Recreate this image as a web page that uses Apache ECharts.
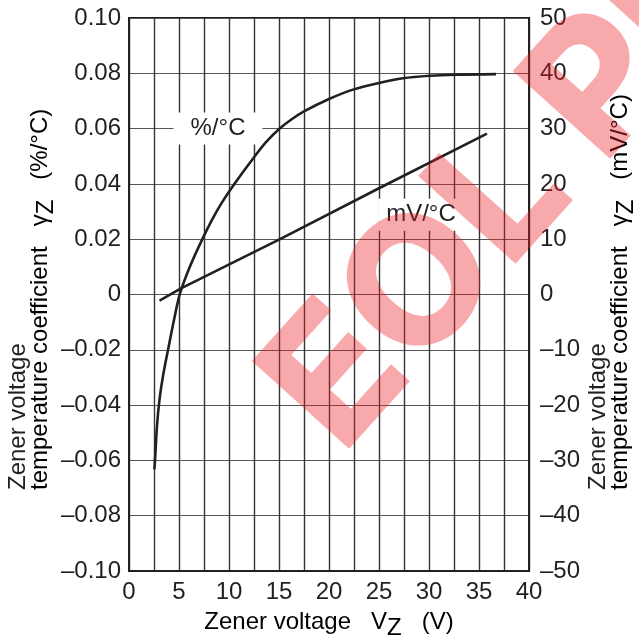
<!DOCTYPE html>
<html><head><meta charset="utf-8">
<script src="https://cdn.jsdelivr.net/npm/echarts@6/dist/echarts.min.js"></script>
<style>html,body{margin:0;padding:0;background:#fff}#c{width:639px;height:639px}</style>
</head><body><div id="c"></div>
<script>
// Data
const pctV   = [2.54, 2.6, 2.8, 3.05, 3.4, 3.93, 4.5, 5.1, 6.2, 7.37, 8.3, 9.3, 10.5, 12.43, 13.7, 15.1, 16.2, 17.5, 20.0, 22.4, 25.1, 27.4, 30.1, 32.6, 36.7];
const pctVal = [-0.0632, -0.060, -0.0475, -0.038, -0.0295, -0.0195, -0.0092, 0.0004, 0.0110, 0.0203, 0.0270, 0.0333, 0.0398, 0.0493, 0.0551, 0.0601, 0.0632, 0.0662, 0.0707, 0.0741, 0.0766, 0.0782, 0.0791, 0.0795, 0.0797];
const mvV    = [3.05, 5.2, 15.1, 25.1, 35.8];
const mvVal  = [-1.1, 1.1, 10.0, 19.3, 29.1];
const pctLabelAt = [8.9, 0.06];
const mvLabelAt  = [29.2, 14.4];

const INK = '#231f20';
const FONT = 'Liberation Sans, Arial, Helvetica, sans-serif';
const dash = '\u2013';
const FS = 24;

const chart = echarts.init(document.getElementById('c'), null, {renderer: 'canvas'});
const vLine = {show: true, lineStyle: {color: '#333', width: 1.4}};
const hLine = {show: true, lineStyle: {color: '#555', width: 1.2}};
const main = {fontSize: FS, fontFamily: FONT, color: INK, lineHeight: FS};
const sub = {fontSize: FS, fontFamily: FONT, color: INK, lineHeight: FS, padding: [13, 0, 0, 0]};

chart.setOption({
  animation: false,
  backgroundColor: '#fff',
  grid: {left: 129, top: 18, width: 400, height: 553, show: true, borderColor: INK, borderWidth: 2, backgroundColor: 'transparent'},
  xAxis: {
    type: 'value', min: 0, max: 40, interval: 5,
    axisLine: {show: true, onZero: false, lineStyle: {color: INK, width: 2}},
    axisTick: {show: false},
    minorTick: {show: false, splitNumber: 2},
    splitLine: vLine,
    minorSplitLine: vLine,
    axisLabel: {color: INK, fontSize: FS, fontFamily: FONT, margin: 9}
  },
  yAxis: [{
    type: 'value', min: -0.1, max: 0.1, interval: 0.02,
    axisLine: {show: true, onZero: false, lineStyle: {color: INK, width: 2}},
    axisTick: {show: false},
    splitLine: hLine,
    axisLabel: {color: INK, fontSize: FS, fontFamily: FONT, margin: 8,
      formatter: v => Math.abs(v) < 1e-9 ? '0' : (v < 0 ? dash : '') + Math.abs(v).toFixed(2)}
  }, {
    type: 'value', min: -50, max: 50, interval: 10, position: 'right',
    axisLine: {show: true, onZero: false, lineStyle: {color: INK, width: 2}},
    axisTick: {show: false},
    splitLine: {show: false},
    axisLabel: {color: INK, fontSize: FS, fontFamily: FONT, margin: 11,
      formatter: v => Math.abs(v) < 1e-9 ? '0' : (v < 0 ? dash : '') + Math.abs(v)}
  }],
  series: [{
    name: '%/°C', type: 'line', yAxisIndex: 0, smooth: 0.3, showSymbol: false,
    lineStyle: {color: INK, width: 2.6}, z: 5,
    data: pctV.map((v, i) => [v, pctVal[i]]),
    markPoint: {symbol: 'circle', symbolSize: 0, silent: true,
      label: {show: true, position: 'inside', formatter: '%/°C', color: INK, fontSize: FS, fontFamily: FONT,
        backgroundColor: '#fff', padding: [4, 17]},
      data: [{coord: pctLabelAt}]}
  }, {
    name: 'mV/°C', type: 'line', yAxisIndex: 1, showSymbol: false,
    lineStyle: {color: INK, width: 2.6}, z: 5,
    data: mvV.map((v, i) => [v, mvVal[i]]),
    markPoint: {symbol: 'circle', symbolSize: 0, silent: true,
      label: {show: true, position: 'inside', formatter: 'mV/°C', color: INK, fontSize: FS, fontFamily: FONT,
        backgroundColor: '#fff', padding: [4, 8]},
      data: [{coord: mvLabelAt}]}
  }],
  graphic: [
    {type: 'text', x: 18, y: 490, rotation: Math.PI / 2, style: {text: 'Zener voltage', fill: INK, font: FS + 'px ' + FONT, textAlign: 'left', textVerticalAlign: 'middle'}},
    {type: 'text', x: 40, y: 490, rotation: Math.PI / 2, style: {text: '{a|temperature coefficient   γ}{s|Z}{a|   (%/°C)}', rich: {a: main, s: sub}, textAlign: 'left', textVerticalAlign: 'middle'}},
    {type: 'text', x: 598, y: 490, rotation: Math.PI / 2, style: {text: 'Zener voltage', fill: INK, font: FS + 'px ' + FONT, textAlign: 'left', textVerticalAlign: 'middle'}},
    {type: 'text', x: 620, y: 490, rotation: Math.PI / 2, style: {text: '{a|temperature coefficient   γ}{s|Z}{a|   (mV/°C)}', rich: {a: main, s: sub}, textAlign: 'left', textVerticalAlign: 'middle'}},
    {type: 'text', x: 329, y: 622, style: {text: '{a|Zener voltage   V}{s|Z}{a|   (V)}', rich: {a: main, s: sub}, textAlign: 'center', textVerticalAlign: 'middle'}},
    {type: 'text', x: 302, y: 420, rotation: 48 * Math.PI / 180, z: 100, silent: true,
      style: {text: 'EOL PRODUCT', fill: 'rgba(237,28,36,0.38)', font: '800 180px Inter, Roboto, "Liberation Sans", sans-serif', textAlign: 'left', textVerticalAlign: 'middle'}}
  ]
});
</script>
</body></html>
